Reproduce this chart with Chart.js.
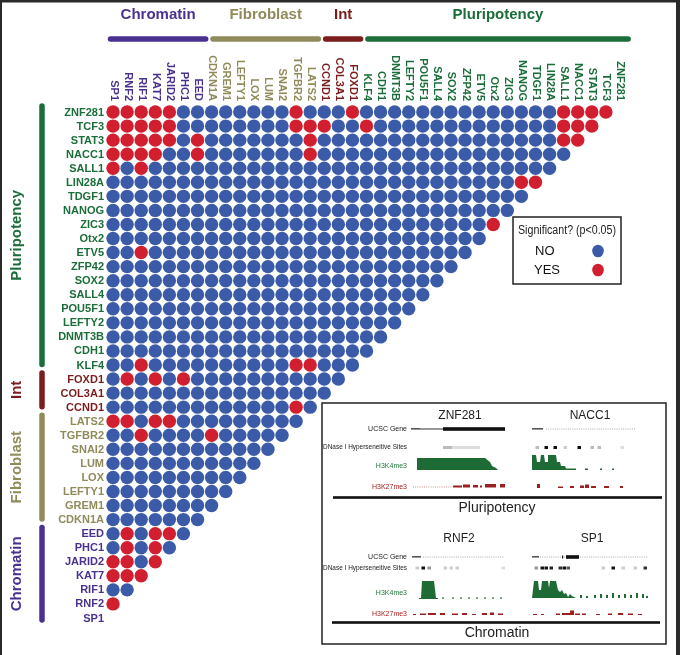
<!DOCTYPE html>
<html><head><meta charset="utf-8">
<script src="https://cdn.jsdelivr.net/npm/chart.js@4.4.1/dist/chart.umd.min.js"></script>
<style>html,body{margin:0;padding:0;background:#fff;}#wrap{position:relative;width:680px;height:655px;}</style>
</head><body><div id="wrap"><canvas id="c" width="680" height="655"></canvas></div>
<script>
// ---- data ----
const genes = ['SP1','RNF2','RIF1','KAT7','JARID2','PHC1','EED','CDKN1A','GREM1','LEFTY1','LOX','LUM','SNAI2','TGFBR2','LATS2','CCND1','COL3A1','FOXD1','KLF4','CDH1','DNMT3B','LEFTY2','POU5F1','SALL4','SOX2','ZFP42','ETV5','Otx2','ZIC3','NANOG','TDGF1','LIN28A','SALL1','NACC1','STAT3','TCF3','ZNF281'];
const groupNames  = ['Chromatin','Fibroblast','Int','Pluripotency'];
const groupFirst  = ['SP1','CDKN1A','CCND1','KLF4'];
const groupLast   = ['EED','LATS2','FOXD1','ZNF281'];
const groupColors = ['#4a3190','#908b5a','#7b1d1d','#1b6e3a'];
const legendTitle = 'Significant? (p<0.05)';
const legendLabels = ['NO','YES'];
const significantByRow = [
  ['ZNF281', ['SP1','RNF2','RIF1','KAT7','JARID2','TGFBR2','FOXD1','SALL1','NACC1','STAT3','TCF3']],
  ['TCF3',   ['SP1','RNF2','RIF1','KAT7','JARID2','TGFBR2','LATS2','CCND1','KLF4','SALL1','NACC1','STAT3']],
  ['STAT3',  ['SP1','RNF2','RIF1','KAT7','JARID2','EED','LATS2','SALL1','NACC1']],
  ['NACC1',  ['SP1','RNF2','RIF1','KAT7','EED','LATS2']],
  ['SALL1',  ['SP1','RIF1']],
  ['LIN28A', ['NANOG','TDGF1']],
  ['ZIC3',   ['Otx2']],
  ['ETV5',   ['RIF1']],
  ['KLF4',   ['RIF1','TGFBR2','LATS2']],
  ['FOXD1',  ['RNF2','KAT7','PHC1']],
  ['CCND1',  ['TGFBR2']],
  ['LATS2',  ['SP1','RNF2','KAT7','JARID2']],
  ['TGFBR2', ['RIF1','CDKN1A']],
  ['EED',    ['RNF2','KAT7','JARID2']],
  ['PHC1',   ['RNF2','KAT7']],
  ['JARID2', ['SP1','RNF2','KAT7']],
  ['KAT7',   ['SP1','RNF2','RIF1']],
  ['RNF2',   ['SP1']]
];
const insetGroups = ['Pluripotency','Chromatin'];
const insetGenes = [['ZNF281','NACC1'],['RNF2','SP1']];
const trackNames = ['UCSC Gene','DNase I Hyperseneitive Sites','H3K4me3','H3K27me3'];

// ---- build ----
const BLUE = '#3b5ba9', RED = '#d11f2f';
const idx = g => genes.indexOf(g);
const groupOf = i => { for (let k=0;k<groupNames.length;k++){ if (i>=idx(groupFirst[k]) && i<=idx(groupLast[k])) return k; } return 0; };
const sigSet = new Set();
significantByRow.forEach(([r, cols]) => cols.forEach(c => sigSet.add(r+'|'+c)));
const noPts = [], yesPts = [];
for (let r=1;r<genes.length;r++) for (let c=0;c<r;c++) {
  const p = {x:c, y:r};
  (sigSet.has(genes[r]+'|'+genes[c]) ? yesPts : noPts).push(p);
}

const FONT = '"Liberation Sans", Arial, sans-serif';

function drawInset(ctx){
  const L=322,T=403,W=344,H=241;
  ctx.save();
  ctx.strokeStyle='#222'; ctx.lineWidth=1.5; ctx.strokeRect(L,T,W,H);
  const rowsY = [[429,447,466,487],[557,568,593,614]];
  const titleY = [416,539];
  const lineY = [497.5,622.5];
  const grpY = [508,633];
  const panelX = [[460,590],[459,592]];
  for (let p=0;p<2;p++){
    ctx.fillStyle='#222'; ctx.font='12px '+FONT; ctx.textAlign='center'; ctx.textBaseline='middle';
    ctx.fillText(insetGenes[p][0], panelX[p][0], titleY[p]);
    ctx.fillText(insetGenes[p][1], panelX[p][1], titleY[p]);
    ctx.font='7px '+FONT; ctx.textAlign='right';
    const tc=['#222','#222','#1e7a3a','#a32222'];
    for (let t=0;t<4;t++){ ctx.fillStyle=tc[t]; ctx.fillText(trackNames[t],407,rowsY[p][t], t===1?84:200); }
    ctx.fillStyle='#111'; ctx.fillRect(p?332:333, lineY[p]-1.3, p?328:329, 2.6);
    ctx.font='14px '+FONT; ctx.textAlign='center'; ctx.fillStyle='#222';
    ctx.fillText(insetGroups[p], 497, grpY[p]);
  }
  const R=(x,y,w,h,c)=>{ctx.fillStyle=c;ctx.fillRect(x,y,w,h);};
  const dots=(x1,x2,y,c)=>{ for(let x=x1;x<x2;x+=2.2) R(x,y-0.4,1,0.8,c); };
  const poly=(pts,c)=>{ctx.fillStyle=c;ctx.beginPath();ctx.moveTo(pts[0][0],pts[0][1]);for(let i=1;i<pts.length;i++)ctx.lineTo(pts[i][0],pts[i][1]);ctx.closePath();ctx.fill();};
  const G='#1e6b35', RD='#9e1f1f';
  // ZNF281
  R(411,428,9,1.6,'#555'); R(420,428.5,23,1,'#333'); R(443,427.2,62,3.6,'#111');
  R(443,446,9,3,'#bbb'); R(452,446,28,3,'#ddd');
  poly([[417,470],[417,458],[485,458],[490,462],[492,466],[496,468],[498,470]],G);
  dots(413,452,487,'#b77'); [[453,9,1.5],[463,7,2.5],[473,5,2],[480,2,1.5],[485,11,3],[500,5,3]].forEach(a=>R(a[0],487-a[2],a[1],a[2]+0.5,RD));
  // NACC1
  R(532,428,11,1.6,'#555'); dots(546,635,429,'#999');
  [[537,'#bbb'],[546,'#111'],[555,'#111'],[565,'#ccc'],[579,'#111'],[592,'#bbb'],[599,'#bbb'],[622,'#ddd']].forEach(a=>R(a[0]-1.5,446,3.5,3,a[1]));
  poly([[532,470],[532,455],[536,455],[537,462],[540,462],[541,455],[544,455],[545,462],[548,462],[548,455],[556,455],[557,462],[560,462],[561,466],[565,466],[566,468.5],[576,468.5],[576,470]],G);
  [[585,3],[600,2],[612,2]].forEach(a=>R(a[0],468.5,a[1],1.5,G));
  [[537,3,4],[558,5,1.5],[570,4,2],[580,4,2.5],[585,4,3.5],[591,5,2],[604,5,2],[620,3,2]].forEach(a=>R(a[0],488-a[2],a[1],a[2],RD));
  // RNF2
  R(412,556,9,1.6,'#555'); dots(423,503,557,'#999');
  [[417,'#ccc'],[423,'#111'],[429,'#999'],[445,'#ccc'],[451,'#ccc'],[457,'#ccc'],[503,'#ddd']].forEach(a=>R(a[0]-1.5,566.5,3.5,3,a[1]));
  poly([[419,598],[421,598],[422,581],[434,581],[436,598],[438,598],[438,599],[419,599]],G);
  [442,452,460,468,476,484,492,500].forEach(x=>R(x,597.5,2,1.2,G));
  [[413,3,1],[420,6,1.5],[428,8,2],[440,5,2],[452,6,1.5],[462,5,2],[472,4,1],[482,5,2],[490,4,2.5],[498,5,1.5]].forEach(a=>R(a[0],615-a[2],a[1],a[2],RD));
  // SP1
  R(532,556,7,1.6,'#555'); dots(540,566,557,'#999'); R(562,555.5,1.2,3,'#111'); R(566,555.2,13,3.6,'#111'); dots(580,648,557,'#999');
  [[536,'#999'],[542,'#111'],[546,'#111'],[551,'#222'],[560,'#333'],[564,'#111'],[568,'#555'],[603,'#ccc'],[613,'#111'],[623,'#ccc'],[635,'#ccc'],[645,'#333']].forEach(a=>R(a[0]-1.5,566.5,3.5,3,a[1]));
  poly([[532,598],[534,581],[538,581],[539,590],[541,590],[542,581],[548,581],[549,588],[550,581],[556,581],[558,590],[560,592],[562,590],[564,594],[566,593],[568,597],[570,594],[572,596],[574,597],[576,598]],G);
  [[580,3],[586,2],[594,3],[600,4],[606,3],[612,5],[618,3],[624,4],[630,3],[636,5],[642,4],[646,2]].forEach(a=>R(a[0],598-a[1],2,a[1],G));
  [[533,4,1],[541,3,1],[556,4,1.5],[562,8,2],[570,4,4.5],[575,5,1.5],[582,4,1.5],[596,4,1],[608,4,1.5],[618,5,2],[628,5,1.5],[638,4,1]].forEach(a=>R(a[0],615-a[2],a[1],a[2],RD));
  ctx.restore();
}

const decor = {
  id:'decor',
  beforeDraw(chart){
    const ctx=chart.ctx;
    ctx.save(); ctx.fillStyle='#fff'; ctx.fillRect(0,0,chart.width,chart.height);
    ctx.fillStyle='#2a2a2a'; ctx.fillRect(0,0,680,2.5); ctx.fillRect(0,0,2,655); ctx.fillRect(676,0,4,655);
    ctx.restore();
  },
  afterDraw(chart){
    const ctx=chart.ctx, xs=chart.scales.x, ys=chart.scales.y;
    const ux = xs.getPixelForValue(1)-xs.getPixelForValue(0);
    const uy = ys.getPixelForValue(0)-ys.getPixelForValue(1);
    ctx.save();
    // row labels
    ctx.font='bold 11px '+FONT; ctx.textBaseline='middle'; ctx.textAlign='right';
    genes.forEach((g,i)=>{ ctx.fillStyle=groupColors[groupOf(i)]; ctx.fillText(g, xs.left-2, ys.getPixelForValue(i)+0.5); });
    // column labels (rotated, reading downward)
    genes.forEach((g,i)=>{
      ctx.save(); ctx.translate(xs.getPixelForValue(i)+0.5, ys.top-4); ctx.rotate(Math.PI/2);
      ctx.fillStyle=groupColors[groupOf(i)]; ctx.textAlign='right'; ctx.textBaseline='middle';
      ctx.fillText(g,0,0); ctx.restore();
    });
    // group bars and names
    ctx.lineCap='round'; ctx.lineWidth=5.5;
    groupNames.forEach((name,k)=>{
      const f=idx(groupFirst[k]), l=idx(groupLast[k]);
      const x1 = xs.getPixelForValue(f + (k===0?-0.18:0.1)), x2 = xs.getPixelForValue(l+0.58);
      ctx.strokeStyle=groupColors[k]; ctx.beginPath(); ctx.moveTo(x1,39); ctx.lineTo(x2,39); ctx.stroke();
      ctx.fillStyle=groupColors[k]; ctx.font='bold 15px '+FONT; ctx.textAlign='center'; ctx.textBaseline='middle';
      ctx.fillText(name,(x1+x2)/2,15);
      const y1 = ys.getPixelForValue(l+0.43), y2 = ys.getPixelForValue(f-(k===0?0.18:0.0))-0.5;
      ctx.beginPath(); ctx.moveTo(42,y1); ctx.lineTo(42,y2); ctx.stroke();
      ctx.save(); ctx.translate(17,(y1+y2)/2); ctx.rotate(-Math.PI/2); ctx.fillText(name,0,0); ctx.restore();
    });
    // legend
    ctx.lineWidth=1.5; ctx.strokeStyle='#222'; ctx.strokeRect(513,217,108,67);
    ctx.fillStyle='#222'; ctx.font='12px '+FONT; ctx.textAlign='center'; ctx.textBaseline='middle';
    ctx.fillText(legendTitle,567,231,98);
    ctx.font='13px '+FONT; ctx.textAlign='left';
    const ds=chart.data.datasets;
    legendLabels.forEach((lab,i)=>{
      const y = 251 + i*19;
      ctx.fillStyle='#111'; ctx.fillText(lab, 535 - i, y);
      ctx.fillStyle=ds[i].backgroundColor; ctx.beginPath(); ctx.ellipse(598,y,5.8,6.3,0,0,Math.PI*2); ctx.fill();
    });
    ctx.restore();
    drawInset(ctx);
  }
};

new Chart(document.getElementById('c'),{
  type:'scatter',
  data:{datasets:[
    {label:legendLabels[0], data:noPts, backgroundColor:BLUE, borderWidth:0, pointRadius:6.7, pointHoverRadius:6.7},
    {label:legendLabels[1], data:yesPts, backgroundColor:RED, borderWidth:0, pointRadius:6.7, pointHoverRadius:6.7}
  ]},
  options:{
    responsive:false, animation:false, devicePixelRatio:1,
    layout:{padding:{left:106,right:53,top:105,bottom:30}},
    scales:{
      x:{type:'linear',min:-0.5,max:36.5,display:false},
      y:{type:'linear',min:-0.5,max:36.5,display:false}
    },
    plugins:{legend:{display:false},tooltip:{enabled:false}},
    events:[]
  },
  plugins:[decor]
});
</script></body></html>
